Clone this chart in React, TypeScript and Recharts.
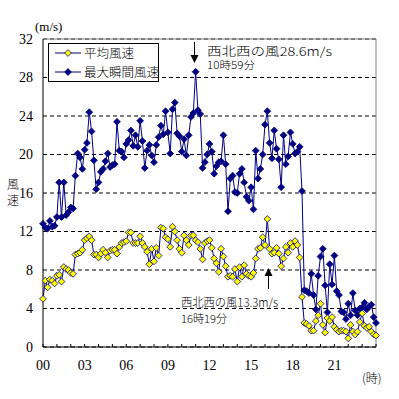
import React from "react";
import { CartesianGrid, Line, LineChart, ReferenceLine, XAxis, YAxis } from "recharts";

// 10-minute values, 00:00 .. 24:00 (m/s)
const maxGust = [
  12.8, 12.4, 12.3, 13.1, 12.5, 12.6, 13.5, 17.1, 13.5, 17.1, 13.7, 14.0, 14.5, 14.4, 17.8, 20.1, 19.7, 18.5, 20.5, 21.2,
  24.4, 22.4, 19.4, 16.4, 17.1, 18.2, 18.5, 19.3, 20.1, 18.7, 18.9, 19.0, 23.4, 20.4, 20.3, 19.7, 21.1,
  21.5, 22.5, 20.9, 22.0, 20.8, 23.5, 21.4, 18.6, 20.4, 21.0, 19.9, 19.2, 21.0, 21.8, 23.0, 22.1, 24.5, 22.3, 20.1,
  24.7, 25.4, 22.2, 21.9, 20.3, 21.6, 19.9, 22.0, 23.9, 24.3, 28.6, 24.6, 24.2, 18.6, 19.2, 20.0,
  21.1, 20.3, 18.0, 18.8, 19.2, 19.3, 22.0, 19.0, 14.1, 17.5, 17.8, 16.1, 16.0, 18.0, 18.5, 17.1, 15.6, 15.2, 16.6, 14.3,
  20.4, 17.5, 18.5, 20.0, 23.1, 24.5, 21.2, 19.6, 22.5, 20.6, 19.5, 16.6, 22.0, 19.0, 19.8, 22.3, 21.1, 20.1, 20.3, 20.8, 16.2,
  5.9, 5.8, 5.6, 7.6, 5.4, 3.9, 7.4, 9.4, 10.2, 6.4, 3.6, 8.6, 6.5, 9.5, 5.8, 5.4, 3.7, 3.6, 2.9, 4.5,
  3.3, 5.6, 3.8, 3.3, 4.0, 4.1, 4.6, 3.9, 4.2, 4.4, 3.1, 2.5,
];

const meanWind = [
  5.0, 6.9, 6.2, 7.0, 6.9, 6.6, 7.4, 7.5, 6.8, 8.3, 8.1, 8.0, 7.7, 7.6, 9.6, 9.7, 9.8, 10.1, 11.1, 11.3,
  11.5, 11.1, 9.6, 9.6, 9.3, 9.7, 10.1, 9.8, 9.3, 10.0, 10.1, 10.1, 9.7, 10.4, 10.8, 10.9, 11.0, 11.9, 11.9, 10.8, 10.8,
  10.8, 11.5, 10.8, 10.4, 9.9, 8.6, 10.2, 8.9, 10.3, 9.5,
  12.4, 12.3, 11.4, 11.2, 10.4, 12.5, 12.0, 11.1, 10.2, 9.8,
  11.6, 11.1, 10.6, 11.6, 11.6, 11.1, 10.9, 10.2, 9.1, 10.8,
  11.0, 11.1, 10.3, 9.2, 8.7, 7.8, 10.2, 9.4, 8.4, 7.3,
  7.4, 7.3, 8.1, 6.8, 8.3, 7.3, 8.5, 7.6, 7.4, 7.3,
  7.7, 9.2, 10.2, 10.3, 11.4, 10.6, 13.3, 10.2, 9.7, 9.8,
  10.3, 9.7, 8.4, 9.2, 10.4, 9.8, 10.8, 10.4, 11.0, 10.6,
  9.3, 5.2,
  2.5, 2.4, 2.2, 1.7, 1.7, 2.7, 3.3, 4.5, 2.3, 1.5, 3.0, 2.7, 3.1, 2.1, 1.8, 1.6, 1.7, 1.7, 1.6, 0.9,
  2.3, 1.6, 1.3, 1.6, 2.6, 3.5, 2.2, 2.0, 2.1, 1.6, 1.3, 1.2,
];

const hourTicks = Array.from({ length: 25 }, (_, h) => h);
const speedTicks = [0, 4, 8, 12, 16, 20, 24, 28, 32];

const data = maxGust.map((g, i) => ({ t: i / 6, gust: g, mean: meanWind[i] }));

const NAVY = "#000080";
const YELLOW = "#ffff00";
const SERIF = "Liberation Serif, serif";
const JP = "Noto Sans CJK JP, sans-serif";

const diamondPath = (cx: number, cy: number, r: number) =>
  `M${cx},${cy - r}L${cx + r},${cy}L${cx},${cy + r}L${cx - r},${cy}Z`;

const diamond = (fill: string) => (p: any) => {
  const { cx, cy, index } = p;
  if (cx == null || cy == null) return <g key={`e${index}`} />;
  return <path key={`d${index}`} d={diamondPath(cx, cy, 3.4)} fill={fill} stroke={NAVY} strokeWidth={0.8} />;
};

const HourTick = (p: any) => {
  const { x, y, payload } = p;
  const h = payload.value as number;
  return (
    <g>
      <line x1={x} x2={x} y1={y - 3} y2={y} stroke="#000" />
      {h % 3 === 0 && h < 24 ? (
        <text x={x} y={y + 23} textAnchor="middle" fontFamily={SERIF} fontSize={14} fill="#000">
          {String(h).padStart(2, "0")}
        </text>
      ) : null}
    </g>
  );
};

function Overlay() {
  return (
    <svg width={399} height={399} style={{ position: "absolute", left: 0, top: 0, pointerEvents: "none" }}>
      {/* legend */}
      <rect x={48.5} y={43.5} width={110} height={38} fill="#fff" stroke="#000" />
      <line x1={55} x2={81} y1={53} y2={53} stroke={NAVY} />
      <path d={diamondPath(68, 53, 3.4)} fill={YELLOW} stroke={NAVY} strokeWidth={0.8} />
      <text x={84} y={57.5} fontFamily={JP} fontWeight={300} fontSize={12.5} fill="#000">平均風速</text>
      <line x1={55} x2={81} y1={72} y2={72} stroke={NAVY} />
      <path d={diamondPath(68, 72, 3.4)} fill={NAVY} stroke={NAVY} strokeWidth={0.8} />
      <text x={84} y={76.5} fontFamily={JP} fontWeight={300} fontSize={12.5} fill="#000">最大瞬間風速</text>

      {/* axis titles */}
      <text x={35} y={31} fontFamily={SERIF} fontSize={13} fill="#000">(m/s)</text>
      <text x={7} y={189} fontFamily={JP} fontWeight={300} fontSize={12} fill="#000">風</text>
      <text x={7} y={205} fontFamily={JP} fontWeight={300} fontSize={12} fill="#000">速</text>
      <text x={362} y={383} fontFamily={JP} fontWeight={300} fontSize={12} fill="#000">(時)</text>

      {/* peak gust note */}
      <line x1={194.5} x2={194.5} y1={42} y2={56} stroke="#000" />
      <path d="M190.5,55 L198.5,55 L194.5,63 Z" fill="#000" />
      <text x={207} y={55.5} fontFamily={JP} fontWeight={300} fontSize={12} fill="#000" textLength={125} lengthAdjust="spacingAndGlyphs">
        西北西の風28.6m/s
      </text>
      <text x={207} y={69} fontFamily={JP} fontWeight={300} fontSize={10.5} fill="#000" textLength={48} lengthAdjust="spacingAndGlyphs">
        10時59分
      </text>

      {/* peak mean note */}
      <line x1={268.5} x2={268.5} y1={274} y2={289} stroke="#000" />
      <path d="M264.5,276 L272.5,276 L268.5,268 Z" fill="#000" />
      <text x={181} y={306.5} fontFamily={JP} fontWeight={300} fontSize={12} fill="#000" textLength={97} lengthAdjust="spacingAndGlyphs">
        西北西の風13.3m/s
      </text>
      <text x={181} y={322.5} fontFamily={JP} fontWeight={300} fontSize={11} fill="#000" textLength={46} lengthAdjust="spacingAndGlyphs">
        16時19分
      </text>
    </svg>
  );
}

export default function App() {
  return (
    <div style={{ position: "absolute", left: 0, top: 0, width: 399, height: 399, background: "#fff" }}>
      <LineChart width={399} height={399} data={data} margin={{ top: 39, right: 23, left: 0, bottom: 0 }}>
        <CartesianGrid vertical={false} stroke="#000" strokeDasharray="4 3" />
        <XAxis
          dataKey="t"
          type="number"
          domain={[0, 24]}
          ticks={hourTicks}
          height={52}
          tickSize={0}
          tickMargin={0}
          tickLine={false}
          axisLine={{ stroke: "#000" }}
          tick={<HourTick />}
          interval={0}
        />
        <YAxis
          type="number"
          domain={[0, 32]}
          ticks={speedTicks}
          width={43}
          tickSize={0}
          tickMargin={10}
          tickLine={false}
          axisLine={{ stroke: "#000" }}
          tick={{ fill: "#000", fontSize: 14, fontFamily: SERIF }}
          interval={0}
        />
        <ReferenceLine y={32} stroke="#808080" />
        <ReferenceLine x={24} stroke="#808080" />
        <Line dataKey="gust" stroke={NAVY} strokeWidth={1} dot={diamond(NAVY)} isAnimationActive={false} />
        <Line dataKey="mean" stroke={NAVY} strokeWidth={1} dot={diamond(YELLOW)} isAnimationActive={false} />
      </LineChart>
      <Overlay />
    </div>
  );
}
